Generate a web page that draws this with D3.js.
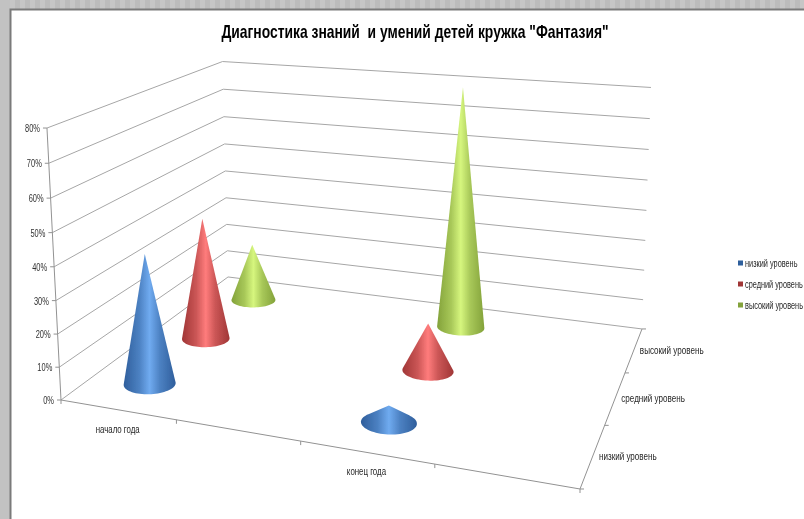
<!DOCTYPE html>
<html>
<head>
<meta charset="utf-8">
<script src="https://cdn.jsdelivr.net/npm/d3@7"></script>
<style>
  html, body { margin: 0; padding: 0; background: #fff; overflow: hidden; }
  text { font-family: "Liberation Sans", sans-serif; white-space: pre; }
</style>
</head>
<body>
<div id="chart"></div>
<script>
const titleText = 'Диагностика знаний  и умений детей кружка "Фантазия"'
// two of the four categories have no label and no values in the original sheet
const periods = ['начало года', '', 'конец года', '']
const levels = ['низкий уровень', 'средний уровень', 'высокий уровень']
const lowValues = [40, null, 5, null]
const midValues = [40, null, 15, null]
const highValues = [20, null, 80, null]
const yTicks = [0, 10, 20, 30, 40, 50, 60, 70, 80]
const colors = [
    {edge: '#2f5e9c', mid: '#70abf0'},
    {edge: '#a03636', mid: '#ff7c7c'},
    {edge: '#83a23a', mid: '#d6f67e'}
]

const WIDTH = 804
const HEIGHT = 519
const FRAME_LEFT = 10
const FRAME_TOP = 9

const svg = d3.select('#chart').append('svg')
    .attr('width', WIDTH)
    .attr('height', HEIGHT)
    .style('display', 'block')

// scales work in unit space, the camera below turns that into pixels
const xScale = d3.scaleBand().domain(d3.range(periods.length)).range([0, 1])
const zScale = d3.scaleBand().domain(d3.range(levels.length)).range([0, 1])
const yScale = d3.scaleLinear().domain([0, 80]).range([0, 1])

// perspective camera fitted to the corners of the box
const CAM = [
    [436.7, 229.7, -15.9, 61],
    [19.6, -46.9, -277.1, 400],
    [-0.1419, 0.2749, -0.04, 1]
]
function project(u, v, t) {
    const w = CAM[2][0] * u + CAM[2][1] * v + CAM[2][2] * t + CAM[2][3]
    return [
        (CAM[0][0] * u + CAM[0][1] * v + CAM[0][2] * t + CAM[0][3]) / w,
        (CAM[1][0] * u + CAM[1][1] * v + CAM[1][2] * t + CAM[1][3]) / w
    ]
}
const line = d3.line()

const defs = svg.append('defs')
// the reference is a soft screenshot
defs.append('filter')
    .attr('id', 'soft')
    .attr('filterUnits', 'userSpaceOnUse')
    .attr('x', 0).attr('y', 0).attr('width', WIDTH).attr('height', HEIGHT)
    .append('feGaussianBlur').attr('stdDeviation', 0.35)
const chart = svg.append('g').attr('filter', 'url(#soft)')

// the original uses a narrow face, squeeze the glyphs to get the same widths
function addText(x, y, str, size, ratio, anchor, fill) {
    return chart.append('text')
        .attr('transform', `translate(${x},${y}) scale(${ratio},1)`)
        .attr('text-anchor', anchor)
        .attr('font-size', size)
        .attr('fill', fill)
        .text(str)
}

// page frame
const stripes = defs.append('pattern')
    .attr('id', 'stripes')
    .attr('width', 10).attr('height', 10)
    .attr('patternUnits', 'userSpaceOnUse')
stripes.append('rect').attr('width', 10).attr('height', 10).attr('fill', '#bcbcbc')
stripes.append('rect').attr('width', 5).attr('height', 10).attr('fill', '#c6c6c6')

chart.append('rect').attr('width', WIDTH).attr('height', FRAME_TOP).attr('fill', 'url(#stripes)')
chart.append('rect').attr('width', FRAME_LEFT).attr('height', HEIGHT).attr('fill', '#c2c2c2')
chart.append('path')
    .attr('d', line([[FRAME_LEFT + 0.5, HEIGHT], [FRAME_LEFT + 0.5, FRAME_TOP + 0.5], [WIDTH, FRAME_TOP + 0.5]]))
    .attr('fill', 'none')
    .attr('stroke', '#7a7a7a')
    .attr('stroke-width', 2)

// title
addText(415, 38, titleText, 19, 0.73, 'middle', '#000').attr('font-weight', 'bold')

// walls
const gridColor = '#a6a6a6'
const axisColor = '#929292'
const grid = chart.append('g').attr('fill', 'none').attr('stroke', gridColor).attr('stroke-width', 1)
yTicks.forEach(function(tick) {
    const t = yScale(tick)
    grid.append('path').attr('d', line([project(0, 0, t), project(0, 1, t), project(1, 1, t)]))
})

// axes
const axes = chart.append('g').attr('fill', 'none').attr('stroke', axisColor).attr('stroke-width', 1)
axes.append('path').attr('d', line([project(0, 0, 1), project(0, 0, 0)]))
axes.append('path').attr('d', line([project(0, 0, 0), project(1, 0, 0), project(1, 1, 0)]))

yTicks.forEach(function(tick) {
    const p = project(0, 0, yScale(tick))
    axes.append('path').attr('d', line([[p[0] - 4, p[1]], p]))
    addText(p[0] - 7, p[1] + 4, tick + '%', 11, 0.68, 'end', '#333')
})
d3.range(periods.length + 1).forEach(function(i) {
    const p = project(i / periods.length, 0, 0)
    axes.append('path').attr('d', line([p, [p[0], p[1] + 4]]))
})
d3.range(levels.length + 1).forEach(function(i) {
    const p = project(1, i / levels.length, 0)
    axes.append('path').attr('d', line([p, [p[0] + 4, p[1]]]))
})

periods.forEach(function(name, i) {
    if (!name) return
    const p = project(xScale(i) + xScale.bandwidth() / 2, 0, 0)
    addText(p[0], p[1] + 23, name, 10.5, 0.75, 'middle', '#262626')
})
levels.forEach(function(name, i) {
    const p = project(1, zScale(i) + zScale.bandwidth() / 2, 0)
    addText(p[0] + 6, p[1] + 4, name, 10.5, 0.77, 'start', '#262626')
})

// cones, back row first so the nearer ones sit on top
colors.forEach(function(c, i) {
    const shoulder = d3.interpolateRgb(c.edge, c.mid)(0.45)
    const grad = defs.append('linearGradient').attr('id', 'cone' + i)
    grad.append('stop').attr('offset', '0%').attr('stop-color', c.edge)
    grad.append('stop').attr('offset', '30%').attr('stop-color', shoulder)
    grad.append('stop').attr('offset', '50%').attr('stop-color', c.mid)
    grad.append('stop').attr('offset', '70%').attr('stop-color', shoulder)
    grad.append('stop').attr('offset', '100%').attr('stop-color', c.edge)
})

const BASE_U = 0.052
const BASE_V = 0.064
const series = [lowValues, midValues, highValues]
const cones = chart.append('g')
d3.range(levels.length - 1, -1, -1).forEach(function(row) {
    series[row].forEach(function(value, col) {
        if (value === null) return
        const u = xScale(col) + xScale.bandwidth() / 2
        const v = zScale(row) + zScale.bandwidth() / 2
        const outline = d3.range(72).map(function(k) {
            const a = k / 72 * 2 * Math.PI
            return project(u + BASE_U * Math.cos(a), v + BASE_V * Math.sin(a), 0)
        })
        outline.push(project(u, v, yScale(value)))
        cones.append('path')
            .attr('d', line(d3.polygonHull(outline)) + 'Z')
            .attr('fill', 'url(#cone' + row + ')')
    })
})

// legend, squeezed a bit harder so the names stay inside the window
levels.forEach(function(name, i) {
    const y = 263 + i * 21
    chart.append('rect')
        .attr('x', 738).attr('y', y - 2.5)
        .attr('width', 5).attr('height', 5)
        .attr('fill', colors[i].edge)
    addText(745, y + 3.5, name, 10.5, 0.7, 'start', '#262626')
})
</script>
</body>
</html>
